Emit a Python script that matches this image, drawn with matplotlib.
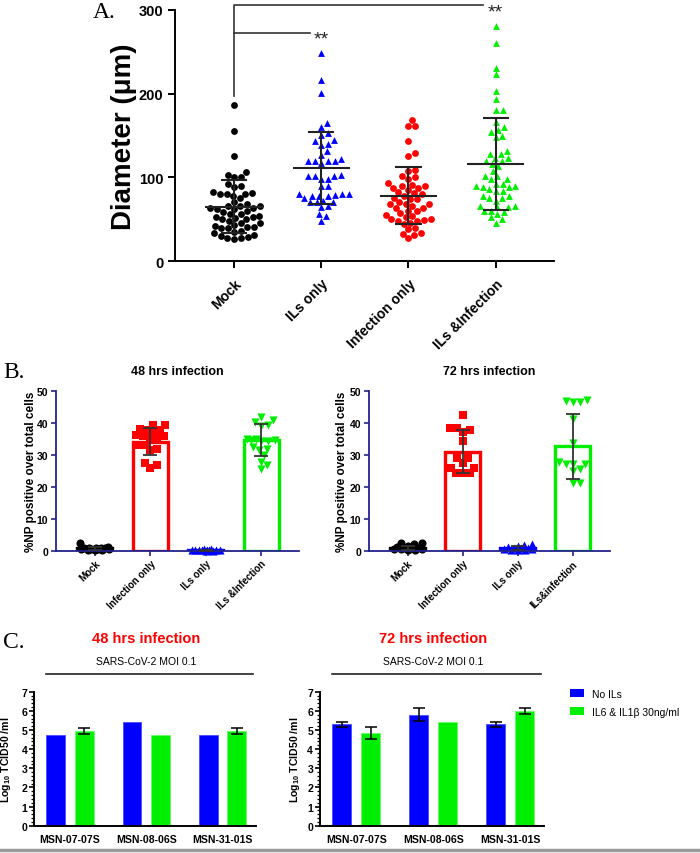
import numpy as np
import matplotlib.pyplot as plt
from matplotlib.lines import Line2D
from matplotlib.patches import Patch
from matplotlib.ticker import MultipleLocator

plt.rcParams['font.family'] = ['Liberation Sans', 'DejaVu Sans']
plt.rcParams['mathtext.default'] = 'regular'

# ---------------- data ----------------
# A. cell diameters (um)
groups_a = ["Mock", "ILs only", "Infection only", "ILs &Infection"]
mock_diam = [187, 155, 125, 106, 103, 100, 100, 92, 90, 88, 82, 81, 80, 80, 80, 78, 75,
             68, 66, 66, 66, 63, 63, 62, 62, 56, 56, 54, 53, 52, 51, 50, 50, 45, 45, 43,
             42, 41, 41, 39, 39, 35, 33, 31, 30, 29, 27, 27, 26, 60, 70, 48, 36, 58]
ils_diam = [249, 216, 201, 165, 160, 153, 151, 145, 143, 140, 139, 132, 127, 122, 120,
            120, 119, 119, 117, 102, 102, 102, 103, 98, 98, 90, 90, 80, 80, 80, 79, 78,
            78, 78, 75, 72, 71, 70, 70, 66, 64, 56, 54, 48]
inf_diam = [168, 161, 161, 143, 129, 126, 109, 107, 102, 100, 98, 93, 91, 90, 90, 87, 87,
            82, 81, 78, 75, 74, 74, 80, 68, 68, 68, 66, 63, 63, 60, 60, 55, 54, 52, 50,
            50, 49, 48, 48, 46, 44, 39, 38, 33, 32, 31, 27, 57, 85, 70]
ilsinf_diam = [281, 260, 231, 223, 203, 194, 180, 180, 166, 160, 156, 154, 150, 148, 131,
               128, 128, 123, 123, 120, 120, 116, 113, 108, 102, 102, 98, 98, 92, 92, 90,
               90, 88, 88, 86, 84, 84, 78, 78, 75, 75, 72, 66, 66, 64, 64, 60, 60, 58, 56,
               52, 50, 46]
diam_mean = [65, 111, 78, 116]
diam_sd = [32, 43, 34, 55]

# B. %NP positive cells
groups_b48 = ["Mock", "Infection only", "ILs only", "ILs &Infection"]
groups_b72 = ["Mock", "Infection only", "ILs only", "ILs&infection"]
np48_mock = [0.2, 0.3, 0.5, 0.6, 0.8, 0.9, 1.0, 0.4, 0.7, 2.4, 0.9, 0.1, 0.6, 1.2]
np48_inf = [39.3, 39.3, 37.8, 37.8, 36.8, 35.7, 35.7, 35.2, 35.2, 33.0, 33.0, 31.8, 31.5,
            27.4, 26.9, 25.8, 38.0, 36.0]
np48_ils = [0.0, 0.1, 0.2, 0.3, 0.1, 0.4, 0.2, 0.5, 0.1, 0.3, 0.2, 0.0]
np48_ilsinf = [41.7, 40.9, 39.1, 39.3, 40.2, 34.4, 34.6, 34.9, 34.4, 34.6, 31.8, 31.5,
               29.8, 27.8, 26.8, 25.5, 35.0, 32.5]
np48_mean = [0.7, 34.1, 0.2, 34.6]
np48_sd = [0.6, 4.2, 0.15, 4.9]

np72_mock = [0.2, 0.5, 0.8, 1.0, 2.3, 2.4, 2.0, 0.6, 0.3, 1.1, 0.4, 0.7, 1.5]
np72_inf = [42.4, 38.2, 38.2, 37.8, 37.0, 34.4, 28.9, 28.9, 27.4, 26.0, 26.0, 24.3, 24.3, 24.3]
np72_ils = [0.2, 0.5, 1.0, 1.5, 2.0, 1.8, 0.3, 0.8, 0.6, 1.2, 0.1, 0.9]
np72_ilsinf = [47.1, 46.4, 46.4, 46.8, 41.1, 33.6, 27.8, 27.0, 27.0, 27.0, 25.5, 24.8,
               21.1, 21.1]
np72_mean = [0.9, 31.0, 0.9, 32.6]
np72_sd = [0.7, 6.6, 0.6, 10.2]

# C. virus titres (log10 TCID50/ml)
strains = ["MSN-07-07S", "MSN-08-06S", "MSN-31-01S"]
titre48_noil = [4.75, 5.42, 4.75]
titre48_noil_err = [0, 0, 0]
titre48_il = [4.95, 4.75, 4.95]
titre48_il_err = [0.17, 0, 0.17]
titre72_noil = [5.30, 5.80, 5.30]
titre72_noil_err = [0.13, 0.33, 0.13]
titre72_il = [4.85, 5.40, 6.00]
titre72_il_err = [0.30, 0, 0.15]

BLUE = '#0000ff'
RED = '#ff0000'
GREEN = '#00ee00'
NAVY = '#22228c'

fig = plt.figure(figsize=(7, 8.54), dpi=100)


def px_rect(x0, y0, x1, y1):
    return [x0 / 700, 1 - y1 / 854, (x1 - x0) / 700, (y1 - y0) / 854]


def swarm_x(ax, vals, center, d, max_off=80):
    # greedy beeswarm in pixel space; if no free slot within max_off, take the least crowded one
    vals = np.asarray(vals, float)
    pix = ax.transData.transform(np.column_stack([np.full(len(vals), center), vals]))
    cx = pix[0, 0]
    steps = np.arange(0.5, max_off, 0.5)
    cand = np.concatenate([[0], np.ravel(np.column_stack([steps, -steps]))])
    placed = []
    xs = np.empty(len(vals))
    for i in np.argsort(vals):
        y = pix[i, 1]
        best_x, best_d = cx, -1
        for off in cand:
            x = cx + off
            dmin = min([np.hypot(x - px, y - py) for px, py in placed], default=1e9)
            if dmin >= d:
                best_x = x
                break
            if dmin > best_d:
                best_x, best_d = x, dmin
        placed.append((best_x, y))
        xs[i] = best_x
    return ax.transData.inverted().transform(np.column_stack([xs, pix[:, 1]]))[:, 0]


# =========================
# A. diameter scatter
# =========================
axA = fig.add_axes(px_rect(175, 11, 554, 262))
axA.set_xlim(-0.68, 3.67)
axA.set_ylim(0, 300)

series_a = [(mock_diam, 'black', 'o'), (ils_diam, BLUE, '^'),
            (inf_diam, RED, 'o'), (ilsinf_diam, GREEN, '^')]
for i, (vals, col, mk) in enumerate(series_a):
    xs = swarm_x(axA, vals, i, 6.6)
    axA.scatter(xs, vals, s=24, c=col, marker=mk, linewidths=0, zorder=2)
    m, s = diam_mean[i], diam_sd[i]
    axA.hlines(m, i - 0.33, i + 0.33, color='#222222', lw=1.5, zorder=3)
    axA.vlines(i, m - s, m + s, color='#222222', lw=1.5, zorder=3)
    axA.hlines([m - s, m + s], i - 0.15, i + 0.15, color='#222222', lw=1.5, zorder=3)

# significance brackets
axA.plot([0, 0, 0.87], [197, 272, 272], color='#333333', lw=1.2, clip_on=False)
axA.plot([0, 0, 2.86], [272, 306, 306], color='#333333', lw=1.2, clip_on=False)
axA.text(1, 276, '**', ha='center', va='top', fontsize=14, color='#222222')
axA.text(3, 308, '**', ha='center', va='top', fontsize=14, color='#222222', clip_on=False)

for sp in ['top', 'right']:
    axA.spines[sp].set_visible(False)
for sp in ['left', 'bottom']:
    axA.spines[sp].set_linewidth(1.4)
axA.set_yticks([0, 100, 200, 300])
axA.set_xticks(range(4))
axA.set_xticklabels(groups_a, rotation=45, ha='right', rotation_mode='anchor',
                    fontsize=10, fontweight='bold')
for lab in axA.get_yticklabels():
    lab.set_fontweight('bold')
    lab.set_fontsize(10.5)
axA.tick_params(width=1.4, length=5)
axA.tick_params(axis='x', pad=6)
axA.set_ylabel('Diameter (μm)', fontsize=20, fontweight='bold')
axA.yaxis.set_label_coords(-0.10, 0.5)

fig.text(93 / 700, 1 - 18 / 854, 'A.', family='Liberation Serif', fontsize=17, va='baseline')

# =========================
# B. %NP positive
# =========================
def np_panel(rect, title, labels, data, means, sds, label_x):
    ax = fig.add_axes(rect)
    ax.set_xlim(-0.7, 3.68)
    ax.set_ylim(0, 50)
    cols = ['black', RED, BLUE, GREEN]
    mks = ['o', 's', '^', 'v']
    x = np.arange(4)
    ax.bar(x, means, width=0.63, facecolor='none', edgecolor=cols, lw=2.4, zorder=1)
    for i, vals in enumerate(data):
        xs = swarm_x(ax, vals, i, 7.0, max_off=15)
        ax.scatter(xs, vals, s=34, c=cols[i], marker=mks[i], linewidths=0, zorder=2,
                   clip_on=False)
        ax.errorbar(i, means[i], yerr=sds[i], fmt='none', ecolor='#333333',
                    elinewidth=1.3, capsize=5, capthick=1.3, zorder=3)
    for sp in ['top', 'right']:
        ax.spines[sp].set_visible(False)
    for sp in ['left', 'bottom']:
        ax.spines[sp].set_color(NAVY)
        ax.spines[sp].set_linewidth(1.3)
    ax.set_yticks(range(0, 51, 10))
    ax.set_xticks(x)
    ax.set_xticklabels(labels, rotation=45, ha='right', rotation_mode='anchor',
                       fontsize=7, fontweight='bold')
    for lab in ax.get_yticklabels():
        lab.set_fontweight('bold')
        lab.set_fontsize(7.5)
    ax.tick_params(color=NAVY, width=1.2, length=3.5, pad=2)
    ax.set_title(title, fontsize=9, fontweight='bold', pad=12)
    ax.set_ylabel('%NP positive over total cells', fontsize=8.5, fontweight='bold')
    ax.yaxis.set_label_coords(label_x, 0.5)
    return ax


np_panel(px_rect(56, 391.7, 299, 551.7), '48 hrs infection', groups_b48,
         [np48_mock, np48_inf, np48_ils, np48_ilsinf], np48_mean, np48_sd, -0.078)
np_panel(px_rect(369, 391.7, 610, 551.7), '72 hrs infection', groups_b72,
         [np72_mock, np72_inf, np72_ils, np72_ilsinf], np72_mean, np72_sd, -0.087)

fig.text(3 / 700, 1 - 378 / 854, 'B.', family='Liberation Serif', fontsize=17, va='baseline')

# =========================
# C. virus titres
# =========================
def titre_panel(rect, title, noil, noil_err, il, il_err, label_x):
    ax = fig.add_axes(rect)
    ax.set_xlim(-0.47, 2.44)
    ax.set_ylim(0, 7)
    x = np.arange(len(strains))
    ax.bar(x - 0.1875, noil, width=0.245, color=BLUE, edgecolor='#4a4aff', lw=0.6)
    ax.bar(x + 0.1875, il, width=0.245, color=GREEN, edgecolor='#66ff66', lw=0.6)
    for xi, v, e in zip(x - 0.1875, noil, noil_err):
        if e:
            ax.errorbar(xi, v, yerr=e, fmt='none', ecolor='black', elinewidth=1.1,
                        capsize=4, capthick=1.1)
    for xi, v, e in zip(x + 0.1875, il, il_err):
        if e:
            ax.errorbar(xi, v, yerr=e, fmt='none', ecolor='black', elinewidth=1.1,
                        capsize=4, capthick=1.1)
    for sp in ['top', 'right']:
        ax.spines[sp].set_visible(False)
    for sp in ['left', 'bottom']:
        ax.spines[sp].set_linewidth(1.4)
    ax.set_yticks(range(8))
    ax.yaxis.set_minor_locator(MultipleLocator(0.2))
    ax.tick_params(axis='y', which='major', width=1.2, length=3.5, pad=1.5)
    ax.tick_params(axis='y', which='minor', width=0.9, length=2)
    ax.set_xticks(x)
    ax.set_xticklabels(strains, fontsize=7.6, fontweight='bold')
    ax.tick_params(axis='x', length=0, pad=6)
    for lab in ax.get_yticklabels():
        lab.set_fontweight('bold')
        lab.set_fontsize(7.6)
    ax.set_ylabel('Log$_{10}$ TCID50 /ml', fontsize=7.6, fontweight='bold')
    ax.yaxis.set_label_coords(label_x, 0.5)
    ax.text(0.506, 1.40, title, transform=ax.transAxes, ha='center', va='center',
            color=RED, fontsize=10.5, fontweight='bold')
    ax.text(0.506, 1.23, 'SARS-CoV-2 MOI 0.1', transform=ax.transAxes, ha='center',
            va='center', fontsize=7.5)
    ax.plot([-0.31, 2.40], [7.93, 7.93], color='#222222', lw=1.2, clip_on=False)
    return ax


titre_panel(px_rect(34.3, 692.7, 256, 826.7), '48 hrs infection',
            titre48_noil, titre48_noil_err, titre48_il, titre48_il_err, -0.096)
axC2 = titre_panel(px_rect(320, 692.7, 544, 826.7), '72 hrs infection',
                   titre72_noil, titre72_noil_err, titre72_il, titre72_il_err, -0.08)

fig.text(3 / 700, 1 - 648 / 854, 'C.', family='Liberation Serif', fontsize=17, va='baseline')

fig.legend(handles=[Patch(facecolor=BLUE, label='No ILs'),
                    Patch(facecolor=GREEN, label='IL6 & IL1β 30ng/ml')],
           loc='upper left', bbox_to_anchor=(570 / 700, 1 - 690 / 854), frameon=False,
           fontsize=7.5, handlelength=1.35, handleheight=0.8, handletextpad=0.8,
           labelspacing=0.75, borderaxespad=0, borderpad=0)

fig.add_artist(Line2D([0, 1], [1 - 851 / 854] * 2, color='#9a9a9a', lw=2.5))

fig.savefig('out.png', dpi=100)
